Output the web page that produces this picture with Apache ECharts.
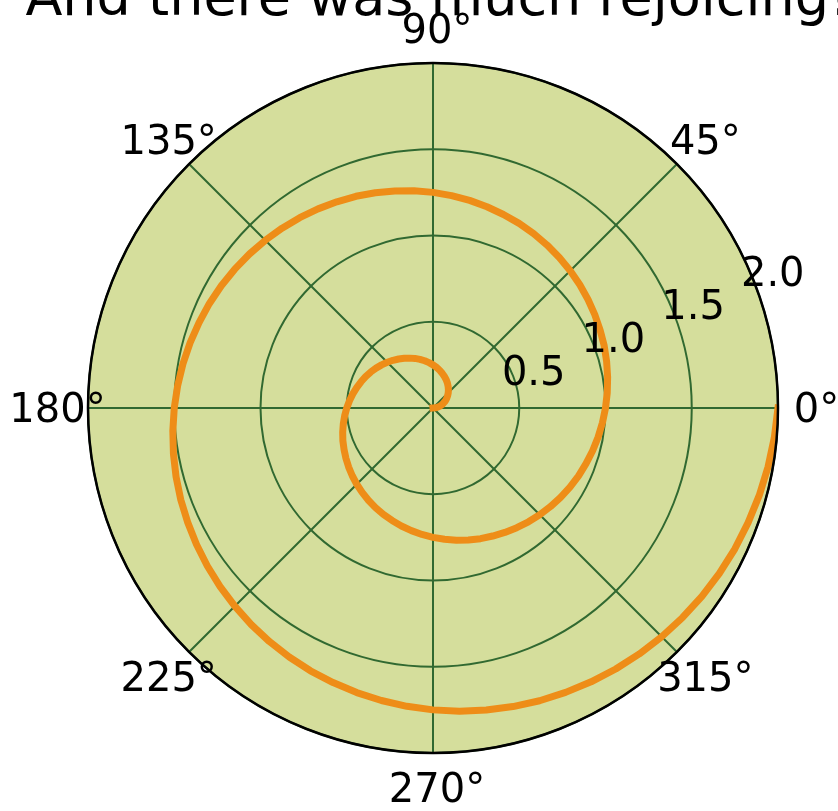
<!DOCTYPE html>
<html>
<head>
<meta charset="utf-8">
<title>And there was much rejoicing!</title>
<script src="https://cdn.jsdelivr.net/npm/echarts@6/dist/echarts.min.js"></script>
<style>
  html, body { margin: 0; padding: 0; background: #ffffff; }
  #chart { width: 838px; height: 811px; }
</style>
</head>
<body>
<div id="chart"></div>
<script>
// Spiral: angle in degrees and radius at each sampled point (two turns)
const spiralAngle = [
  0, 5, 10, 15, 20, 25, 30, 35, 40, 45, 50, 55, 60, 65, 70, 75, 80, 85,
  90, 95, 100, 105, 110, 115, 120, 125, 130, 135, 140, 145, 150, 155, 160, 165, 170, 175,
  180, 185, 190, 195, 200, 205, 210, 215, 220, 225, 230, 235, 240, 245, 250, 255, 260, 265,
  270, 275, 280, 285, 290, 295, 300, 305, 310, 315, 320, 325, 330, 335, 340, 345, 350, 355,
  0, 5, 10, 15, 20, 25, 30, 35, 40, 45, 50, 55, 60, 65, 70, 75, 80, 85,
  90, 95, 100, 105, 110, 115, 120, 125, 130, 135, 140, 145, 150, 155, 160, 165, 170, 175,
  180, 185, 190, 195, 200, 205, 210, 215, 220, 225, 230, 235, 240, 245, 250, 255, 260, 265,
  270, 275, 280, 285, 290, 295, 300, 305, 310, 315, 320, 325, 330, 335, 340, 345, 350, 355,
  360
];
const spiralR = [
  0, 0.014, 0.028, 0.042, 0.056, 0.069, 0.083, 0.097, 0.111, 0.125, 0.139, 0.153, 0.167, 0.181, 0.194, 0.208, 0.222, 0.236,
  0.25, 0.264, 0.278, 0.292, 0.306, 0.319, 0.333, 0.347, 0.361, 0.375, 0.389, 0.403, 0.417, 0.431, 0.444, 0.458, 0.472, 0.486,
  0.5, 0.514, 0.528, 0.542, 0.556, 0.569, 0.583, 0.597, 0.611, 0.625, 0.639, 0.653, 0.667, 0.681, 0.694, 0.708, 0.722, 0.736,
  0.75, 0.764, 0.778, 0.792, 0.806, 0.819, 0.833, 0.847, 0.861, 0.875, 0.889, 0.903, 0.917, 0.931, 0.944, 0.958, 0.972, 0.986,
  1.0, 1.014, 1.028, 1.042, 1.056, 1.069, 1.083, 1.097, 1.111, 1.125, 1.139, 1.153, 1.167, 1.181, 1.194, 1.208, 1.222, 1.236,
  1.25, 1.264, 1.278, 1.292, 1.306, 1.319, 1.333, 1.347, 1.361, 1.375, 1.389, 1.403, 1.417, 1.431, 1.444, 1.458, 1.472, 1.486,
  1.5, 1.514, 1.528, 1.542, 1.556, 1.569, 1.583, 1.597, 1.611, 1.625, 1.639, 1.653, 1.667, 1.681, 1.694, 1.708, 1.722, 1.736,
  1.75, 1.764, 1.778, 1.792, 1.806, 1.819, 1.833, 1.847, 1.861, 1.875, 1.889, 1.903, 1.917, 1.931, 1.944, 1.958, 1.972, 1.986,
  2.0
];

// Angular ticks and their labels
const angleTicks = [0, 45, 90, 135, 180, 225, 270, 315];
const angleTickLabels = ['0°', '45°', '90°', '135°', '180°', '225°', '270°', '315°'];

// Radial ticks and their labels (shown along the 22.5° direction)
const radiusTicks = [0.5, 1.0, 1.5, 2.0];
const radiusTickLabels = ['0.5', '1.0', '1.5', '2.0'];
const radiusLabelAngle = 22.5;

const titleText = 'And there was much rejoicing!';

const FACE = '#d5de9c';
const GRID = '#316931';
const LINE = '#ee8d18';
const FONT = 'DejaVu Sans';

const CENTER = [433, 408];
const RADIUS = 345;
const RMAX = 2;
const ANGLE_LABEL_R = 2.2;

const chart = echarts.init(document.getElementById('chart'), null, { renderer: 'canvas' });

const spiralData = spiralR.map((r, i) => [r, spiralAngle[i]]);
const angleLabelData = angleTicks.map((a, i) => ({ name: angleTickLabels[i], value: [ANGLE_LABEL_R, a] }));
const radiusLabelData = radiusTicks.map((r, i) => ({ name: radiusTickLabels[i], value: [r, radiusLabelAngle] }));

// Text placed at polar positions through an invisible scatter
const labelSeries = (data, offset) => ({
  type: 'scatter',
  coordinateSystem: 'polar',
  polarIndex: 1,
  clip: false,
  silent: true,
  symbolSize: 1,
  itemStyle: { color: 'rgba(0,0,0,0)', opacity: 1 },
  z: 6,
  label: {
    show: true,
    position: 'inside',
    formatter: p => p.name,
    color: '#000',
    opacity: 1,
    textBorderWidth: 0,
    fontFamily: FONT,
    fontSize: 40,
    align: 'center',
    verticalAlign: 'middle',
    offset: offset
  },
  data: data
});

const hiddenRadius = idx => ({
  polarIndex: idx,
  type: 'value',
  min: 0, max: RMAX,
  axisLine: { show: false },
  axisTick: { show: false },
  axisLabel: { show: false },
  splitLine: { show: false }
});

chart.setOption({
  animation: false,
  backgroundColor: '#ffffff',
  title: {
    text: titleText,
    left: 433,
    top: -31,
    textAlign: 'center',
    textStyle: { fontFamily: FONT, fontSize: 54, fontWeight: 'normal', color: '#000' }
  },
  polar: [
    { center: CENTER, radius: RADIUS, z: 0 },   // face colour
    { center: CENTER, radius: RADIUS, z: 1 },   // grid, spiral
    { center: CENTER, radius: RADIUS, z: 5 }    // outer frame
  ],
  angleAxis: [
    {
      polarIndex: 0,
      type: 'value',
      min: 0, max: 360, interval: 45,
      startAngle: 0, clockwise: false,
      z: 0,
      axisLine: { show: false },
      axisTick: { show: false },
      axisLabel: { show: false },
      splitLine: { show: false },
      splitArea: { show: true, areaStyle: { color: [FACE, FACE], opacity: 1 } }
    },
    {
      polarIndex: 1,
      type: 'value',
      min: 0, max: 360, interval: 45,
      startAngle: 0, clockwise: false,
      z: 1,
      axisLine: { show: false },
      axisTick: { show: false },
      axisLabel: { show: false },
      splitLine: { show: true, lineStyle: { color: GRID, width: 2 } },
      splitArea: { show: false }
    },
    {
      polarIndex: 2,
      type: 'value',
      min: 0, max: 360, interval: 45,
      startAngle: 0, clockwise: false,
      z: 5,
      axisLine: { show: true, lineStyle: { color: '#000', width: 2.5 } },
      axisTick: { show: false },
      axisLabel: { show: false },
      splitLine: { show: false },
      splitArea: { show: false }
    }
  ],
  radiusAxis: [
    hiddenRadius(0),
    {
      polarIndex: 1,
      type: 'value',
      min: 0, max: RMAX, interval: 0.5,
      z: 1,
      axisLine: { show: false },
      axisTick: { show: false },
      axisLabel: { show: false },
      splitLine: { show: true, lineStyle: { color: GRID, width: 2 } }
    },
    hiddenRadius(2)
  ],
  series: [
    {
      type: 'line',
      coordinateSystem: 'polar',
      polarIndex: 1,
      data: spiralData,
      smooth: false,
      showSymbol: false,
      symbol: 'none',
      clip: true,
      silent: true,
      z: 3,
      lineStyle: { color: LINE, width: 7, cap: 'square', join: 'round' }
    },
    labelSeries(angleLabelData, [4, 4]),
    labelSeries(radiusLabelData, [21, 0])
  ]
});
</script>
</body>
</html>
